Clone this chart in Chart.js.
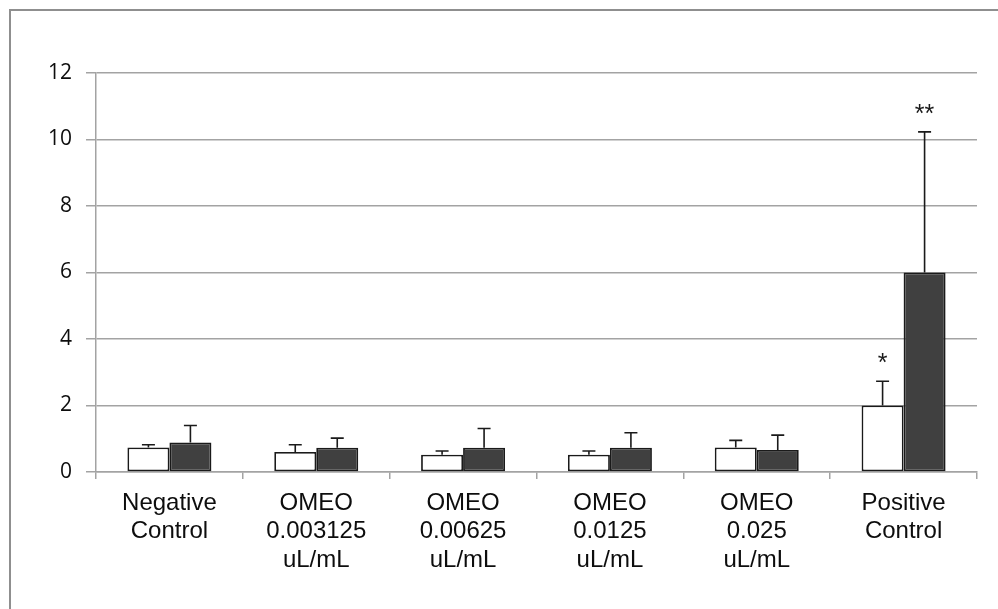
<!DOCTYPE html>
<html>
<head>
<meta charset="utf-8">
<script src="https://cdn.jsdelivr.net/npm/chart.js@4.4.1/dist/chart.umd.min.js"></script>
<style>
  html, body { margin: 0; padding: 0; background: #ffffff; }
  #wrap { width: 998px; height: 609px; }
</style>
</head>
<body>
<div id="wrap"><canvas id="chart" width="998" height="609"></canvas></div>
<script>
// Categories (multi-line axis labels)
const categories = [
  ['Negative', 'Control'],
  ['OMEO', '0.003125', 'uL/mL'],
  ['OMEO', '0.00625', 'uL/mL'],
  ['OMEO', '0.0125', 'uL/mL'],
  ['OMEO', '0.025', 'uL/mL'],
  ['Positive', 'Control']
];

// Mean values and upper error amounts for the two groups
const whiteValues = [0.74, 0.60, 0.52, 0.52, 0.74, 2.00];
const whiteErrors = [0.08, 0.22, 0.11, 0.11, 0.21, 0.73];
const darkValues  = [0.89, 0.73, 0.73, 0.73, 0.66, 6.00];
const darkErrors  = [0.51, 0.29, 0.58, 0.45, 0.45, 4.23];

// Significance marks shown above the error bars
const whiteMarks = ['', '', '', '', '', '*'];
const darkMarks  = ['', '', '', '', '', '**'];

// Y axis ticks
const yTicks = [0, 2, 4, 6, 8, 10, 12];

const GRID = '#a3a3a3';

// Frame lines around the figure (top and left edges)
const framePlugin = {
  id: 'frame',
  beforeDraw(chart) {
    const ctx = chart.ctx;
    ctx.save();
    ctx.fillStyle = '#ffffff';
    ctx.fillRect(0, 0, chart.width, chart.height);
    ctx.strokeStyle = '#8f8f8f';
    ctx.lineWidth = 2;
    ctx.beginPath();
    ctx.moveTo(10, chart.height);
    ctx.lineTo(10, 10);
    ctx.lineTo(chart.width, 10);
    ctx.stroke();
    ctx.restore();
  }
};

// Upward error bars with caps, plus significance marks
const errorBarPlugin = {
  id: 'errorBars',
  afterDatasetsDraw(chart) {
    const ctx = chart.ctx;
    const yScale = chart.scales.y;
    ctx.save();
    chart.data.datasets.forEach((ds, di) => {
      const meta = chart.getDatasetMeta(di);
      meta.data.forEach((bar, i) => {
        const top = yScale.getPixelForValue(ds.data[i] + ds.errors[i]);
        ctx.strokeStyle = '#1a1a1a';
        ctx.lineWidth = 1.6;
        ctx.beginPath();
        ctx.moveTo(bar.x, bar.y);
        ctx.lineTo(bar.x, top);
        ctx.moveTo(bar.x - 6.5, top);
        ctx.lineTo(bar.x + 6.5, top);
        ctx.stroke();
        const mark = ds.marks[i];
        if (mark) {
          ctx.fillStyle = '#1a1a1a';
          ctx.font = '25px "Liberation Sans", Arial, sans-serif';
          ctx.textAlign = 'center';
          ctx.textBaseline = 'middle';
          ctx.fillText(mark, bar.x, top - 17);
        }
      });
    });
    ctx.restore();
  }
};

new Chart(document.getElementById('chart'), {
  type: 'bar',
  data: {
    labels: categories,
    datasets: [
      {
        label: 'Group 1',
        data: whiteValues,
        errors: whiteErrors,
        marks: whiteMarks,
        backgroundColor: '#ffffff',
        borderColor: '#1a1a1a',
        borderWidth: 1.8,
        borderSkipped: false
      },
      {
        label: 'Group 2',
        data: darkValues,
        errors: darkErrors,
        marks: darkMarks,
        backgroundColor: '#404040',
        borderColor: '#1a1a1a',
        borderWidth: 1.8,
        borderSkipped: false
      }
    ]
  },
  options: {
    responsive: false,
    animation: false,
    layout: { padding: { top: 73, right: 21, left: 0, bottom: 0 } },
    datasets: {
      bar: { categoryPercentage: 0.572, barPercentage: 1.0 }
    },
    plugins: {
      legend: { display: false },
      tooltip: { enabled: false }
    },
    scales: {
      x: {
        grid: {
          offset: true,
          drawOnChartArea: false,
          drawTicks: true,
          tickLength: 7,
          color: GRID,
          lineWidth: 1.5
        },
        border: { color: GRID, width: 1.5 },
        ticks: {
          color: '#0d0d0d',
          padding: 10,
          maxRotation: 0,
          autoSkip: false,
          font: { family: '"Liberation Sans", Arial, sans-serif', size: 24, lineHeight: 1.19 }
        },
        afterFit(scale) { scale.height = 137; }
      },
      y: {
        min: 0,
        max: 12,
        afterBuildTicks(scale) { scale.ticks = yTicks.map(v => ({ value: v })); },
        grid: {
          color: GRID,
          lineWidth: 1.5,
          tickLength: 10,
          drawTicks: true
        },
        border: { color: GRID, width: 1.5 },
        ticks: {
          color: '#0d0d0d',
          padding: 14,
          font: { family: '"Open Sans", sans-serif', size: 21 }
        },
        afterFit(scale) { scale.width = 96; }
      }
    }
  },
  plugins: [framePlugin, errorBarPlugin]
});
</script>
</body>
</html>
